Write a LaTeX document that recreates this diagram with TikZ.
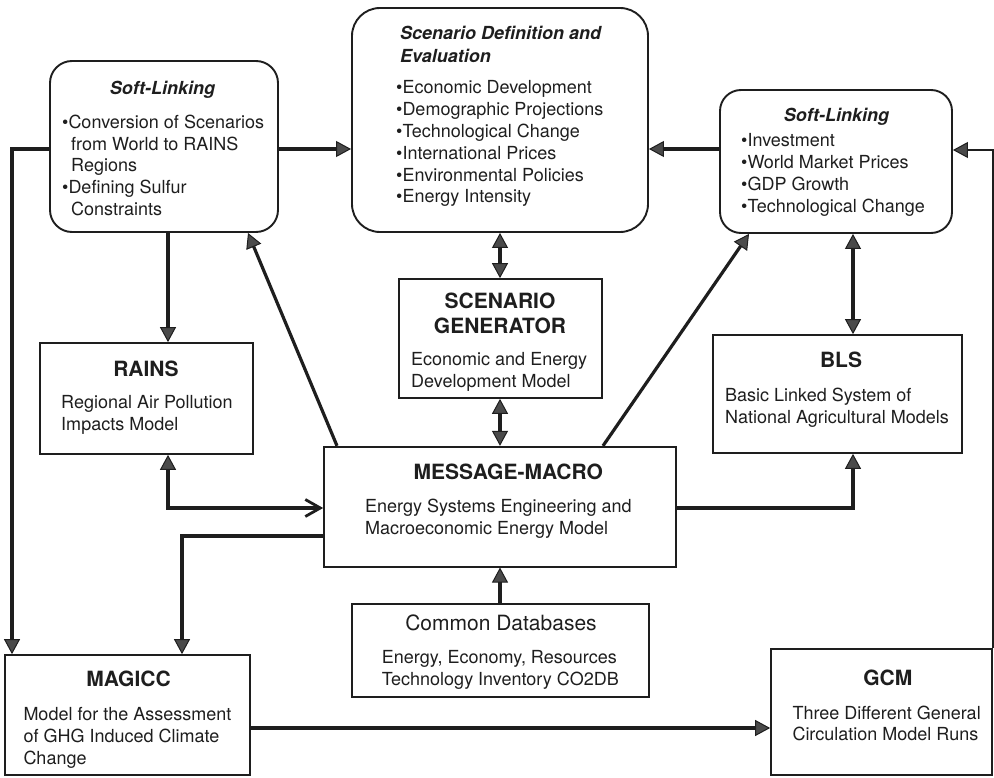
\documentclass[tikz,border=0pt]{standalone}
\usepackage{fontspec}
\setmainfont{TeX Gyre Heros}
\usetikzlibrary{arrows.meta}
\definecolor{ink}{HTML}{1E1E1E}
\definecolor{tipfill}{HTML}{4A4A4A}
\newcommand{\blk}[1]{\begin{tabular}[t]{@{}l@{}}#1\end{tabular}}
\newcommand{\cblk}[1]{\begin{tabular}[t]{@{}c@{}}#1\end{tabular}}
\newcommand{\hang}{\hspace*{9pt}}
\begin{document}
\begin{tikzpicture}[x=1pt,y=-1pt,
  every node/.style={inner sep=0pt, text=ink},
  sbox/.style={draw=ink, line width=1.7pt, rectangle},
  rbox/.style={draw=ink, line width=1.9pt, rectangle, rounded corners=22pt},
  body/.style={font=\fontsize{18}{21.8}\selectfont, anchor=base west},
  ttl/.style={font=\fontsize{21}{25}\selectfont\bfseries, anchor=base},
  itl/.style={font=\fontsize{18}{22.6}\selectfont\bfseries\itshape},
  conn/.style={draw=ink, line width=3.2pt},
  arr/.style={conn, -{Triangle[length=15pt,width=16pt,fill=tipfill,line width=1pt]}},
  dbl/.style={conn, {Triangle[length=15pt,width=16pt,fill=tipfill,line width=1pt]}-{Triangle[length=15pt,width=16pt,fill=tipfill,line width=1pt]}},
  mix/.style={conn, {Triangle[length=15pt,width=16pt,fill=tipfill,line width=1pt]}-{Straight Barb[length=15pt,width=17pt,line width=2.8pt]}}
]
\useasboundingbox (0,0) rectangle (994,778);

% ---------- boxes ----------
\node[rbox, minimum width=228pt, minimum height=171pt] (sl) at (164,146.5) {};
\node[rbox, rounded corners=28pt, minimum width=296pt, minimum height=224pt] (sd) at (500,120) {};
\node[rbox, rounded corners=21pt, minimum width=232pt, minimum height=143pt] (sr) at (836,161.5) {};
\node[sbox, minimum width=213pt, minimum height=111pt] (rains) at (146.5,398.5) {};
\node[sbox, minimum width=203pt, minimum height=119pt] (sg) at (500.5,338.5) {};
\node[sbox, minimum width=352pt, minimum height=120pt] (mm) at (500,506.7) {};
\node[sbox, minimum width=249pt, minimum height=118pt] (bls) at (837.5,394) {};
\node[sbox, minimum width=297pt, minimum height=93pt] (cdb) at (500.5,650.5) {};
\node[sbox, minimum width=245pt, minimum height=120pt] (magicc) at (127.5,715) {};
\node[sbox, minimum width=221pt, minimum height=126pt] (gcm) at (881.5,712) {};

% ---------- texts ----------
\node[itl, anchor=base] (slt) at (162.5,94.3) {Soft-Linking};
\node[body] (slb) at (62,128.3) {\blk{•Conversion of Scenarios\\ \hang from World to RAINS\\ \hang Regions\\ •Defining Sulfur\\ \hang Constraints}};

\node[itl, anchor=base west] (sdt) at (400,40) {\blk{Scenario Definition and\\ Evaluation}};
\node[body] (sdb) at (396,94) {\blk{•Economic Development\\ •Demographic Projections\\ •Technological Change\\ •International Prices\\ •Environmental Policies\\ •Energy Intensity}};

\node[itl, anchor=base] (srt) at (836.5,121.7) {Soft-Linking};
\node[body] (srb) at (741,146.7) {\blk{•Investment\\ •World Market Prices\\ •GDP Growth\\ •Technological Change}};

\node[ttl] (rainst) at (146,376.7) {RAINS};
\node[body] (rainsb) at (61,408.3) {\blk{Regional Air Pollution\\ Impacts Model}};

\node[ttl] (sgt) at (500,308.3) {\cblk{SCENARIO\\ GENERATOR}};
\node[body] (sgb) at (411,365.7) {\blk{Economic and Energy\\ Development Model}};

\node[ttl] (mmt) at (508.3,479) {MESSAGE-MACRO};
\node[body] (mmb) at (365,512.3) {\blk{Energy Systems Engineering and\\ Macroeconomic Energy Model}};

\node[ttl] (blst) at (841,367.3) {BLS};
\node[body] (blsb) at (725,401.7) {\blk{Basic Linked System of\\ National Agricultural Models}};

\node[font=\fontsize{21}{25}\selectfont, anchor=base] (cdbt) at (501,630.7) {Common Databases};
\node[body] (cdbb) at (381.7,663.3) {\blk{Energy, Economy, Resources\\ Technology Inventory CO2DB}};

\node[ttl] (magt) at (128.5,686.7) {MAGICC};
\node[body] (magb) at (23.3,720.7) {\blk{Model for the Assessment\\ of GHG Induced Climate\\ Change}};

\node[ttl] (gcmt) at (887.8,685) {GCM};
\node[body] (gcmb) at (792.3,719) {\blk{Three Different General\\ Circulation Model Runs}};

% ---------- connectors ----------
\draw[arr] (sl.west |- 0,149) -| (magicc.north -| 12,0);
\draw[arr] (sl.east |- 0,149) -- (sd.west |- 0,149);
\draw[arr] (sr.west |- 0,149) -- (sd.east |- 0,149);
\draw[arr, line width=2.4pt] (gcm.north east) |- (sr.east |- 0,150);
\draw[dbl] (sd.south -| 500,0) -- (sg.north -| 500,0);
\draw[dbl] (sg.south -| 500,0) -- (mm.north -| 500,0);
\draw[arr] (sl.south -| 168,0) -- (rains.north -| 168,0);
\draw[arr] (mm.north -| 337,0) -- (sl.south -| 248,0);
\draw[arr] (mm.north -| 603,0) -- (sr.south -| 749,0);
\draw[dbl] (sr.south -| 853,0) -- (bls.north -| 853,0);
\draw[mix] (rains.south -| 168,0) |- (mm.west |- 0,508);
\draw[arr] (mm.west |- 0,536) -| (magicc.north -| 182,0);
\draw[arr] (mm.east |- 0,508) -| (bls.south -| 853,0);
\draw[arr] (cdb.north -| 500,0) -- (mm.south -| 500,0);
\draw[arr] (magicc.east |- 0,728) -- (gcm.west |- 0,728);
\end{tikzpicture}
\end{document}
